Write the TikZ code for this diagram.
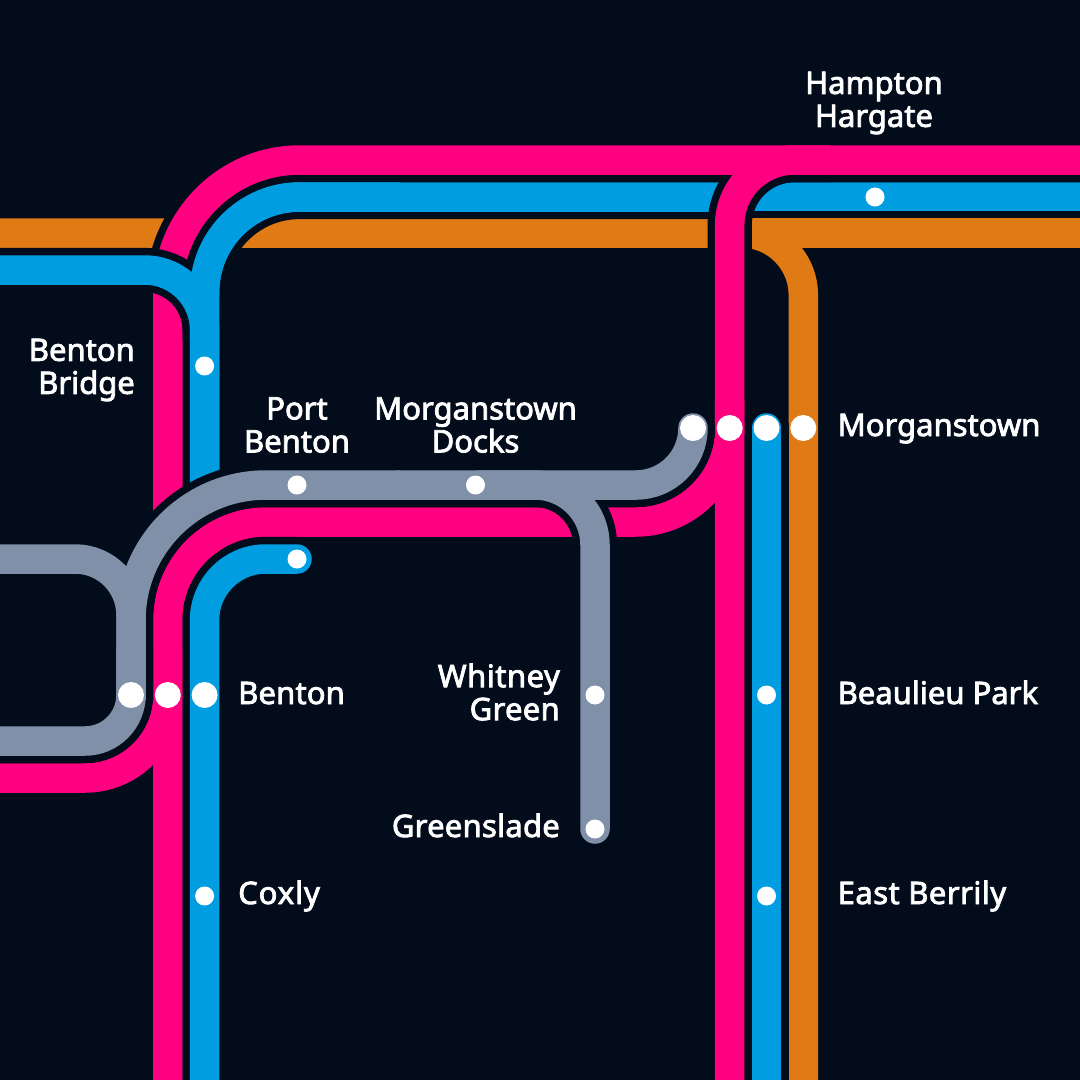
\documentclass[tikz,border=0pt]{standalone}
\usepackage{fontspec}
\setmainfont[FakeBold=2.6]{Noto Sans}
\definecolor{bg}{HTML}{020C1B}
\definecolor{pinkl}{HTML}{FF0080}
\definecolor{bluel}{HTML}{009EE0}
\definecolor{orangel}{HTML}{E07A14}
\definecolor{greyl}{HTML}{7F90A8}
\tikzset{
  casing/.style={line width=44.2pt,draw=bg},
  pinkline/.style={line width=29.5pt,draw=pinkl},
  blueline/.style={line width=29.5pt,draw=bluel},
  orangeline/.style={line width=29.5pt,draw=orangel},
  greyline/.style={line width=29.5pt,draw=greyl},
  stopsmall/.style={circle,fill=white,inner sep=0pt,minimum size=19pt},
  stopbig/.style={circle,fill=white,inner sep=0pt,minimum size=26pt},
  lbl/.style={text=white,inner sep=0pt,font=\fontsize{31}{33}\selectfont},
}
% #1 = style, #2 = radius, #3 = path
\newcommand{\seg}[3]{\draw[#1,rounded corners=#2pt] #3;}
\begin{document}
\begin{tikzpicture}[x=1pt,y=-1pt]
\useasboundingbox (0,0) rectangle (1080,1080);
\clip (0,0) rectangle (1080,1080);
\fill[bg] (0,0) rectangle (1080,1080);
% blue right stub and blue east vertical
\seg{casing}{28}{(1090,197)--(766.5,197)--(766.5,240)}
\seg{blueline}{28}{(1090,197)--(766.5,197)--(766.5,240)}
% orange
\seg{casing}{62}{(-10,233)--(803.3,233)--(803.3,1090)}
\seg{casing}{0}{(741,233)--(1090,233)}
\seg{orangeline}{62}{(-10,233)--(803.3,233)--(803.3,1090)}
\seg{orangeline}{0}{(741,233)--(1090,233)}
\seg{casing,line cap=round}{0}{(766.5,428)--(766.5,1120)}
\seg{blueline,line cap=round}{0}{(766.5,428)--(766.5,1120)}
% blue upper
\seg{casing}{95}{(204.6,490)--(204.6,197)--(735,197)}
\seg{blueline}{95}{(204.6,490)--(204.6,197)--(735,197)}
% pink
\seg{casing}{132}{(1090,160)--(167.8,160)--(167.8,530)}
\seg{casing}{65}{(830,160)--(729.7,160)--(729.7,1090)}
\seg{casing}{98}{(167.8,1090)--(167.8,522)--(450,522)}
\seg{casing}{94}{(450,522)--(729.7,522)--(729.7,400)}
\seg{casing}{83}{(-10,778)--(167.8,778)--(167.8,650)}
\seg{pinkline}{132}{(1090,160)--(167.8,160)--(167.8,530)}
\seg{pinkline}{65}{(830,160)--(729.7,160)--(729.7,1090)}
\seg{pinkline}{98}{(167.8,1090)--(167.8,522)--(450,522)}
\seg{pinkline}{94}{(450,522)--(729.7,522)--(729.7,400)}
\seg{pinkline}{83}{(-10,778)--(167.8,778)--(167.8,650)}
% blue west branch and lower blue
\seg{casing}{60}{(-10,270)--(204.6,270)--(204.6,340)}
\seg{blueline}{60}{(-10,270)--(204.6,270)--(204.6,340)}
\seg{blueline}{95}{(204.6,490)--(204.6,197)--(400,197)}
\seg{casing,line cap=round}{61}{(204.6,1120)--(204.6,559)--(297,559)}
\seg{blueline,line cap=round}{61}{(204.6,1120)--(204.6,559)--(297,559)}
% grey
\seg{casing,line cap=round}{57}{(693,428)--(693,485)--(400,485)}
\seg{casing}{135}{(400,485)--(131,485)--(131,700)}
\seg{casing}{56}{(-10,559)--(131,559)--(131,700)}
\seg{casing}{46}{(-10,741)--(131,741)--(131,650)}
\seg{casing,line cap=round}{60}{(480,485)--(595,485)--(595,829)}
\seg{greyline,line cap=round}{57}{(693,428)--(693,485)--(400,485)}
\seg{greyline}{135}{(400,485)--(131,485)--(131,700)}
\seg{greyline}{56}{(-10,559)--(131,559)--(131,700)}
\seg{greyline}{46}{(-10,741)--(131,741)--(131,650)}
\seg{greyline,line cap=round}{60}{(480,485)--(595,485)--(595,829)}
% stations
\node[stopsmall] (s1) at (875,197) {};
\node[stopsmall] (s2) at (204.6,366) {};
\node[stopsmall] (s3) at (297,485) {};
\node[stopsmall] (s4) at (475.5,485) {};
\node[stopsmall] (s5) at (297,559) {};
\node[stopsmall] (s6) at (595,695) {};
\node[stopsmall] (s7) at (595,829) {};
\node[stopsmall] (s8) at (766.5,695) {};
\node[stopsmall] (s9) at (766.5,896) {};
\node[stopsmall] (s10) at (204.6,896) {};
\node[stopbig] (b1) at (693,428) {};
\node[stopbig] (b2) at (729.7,428) {};
\node[stopbig] (b3) at (766.5,428) {};
\node[stopbig] (b4) at (803.3,428) {};
\node[stopbig] (b5) at (131,695) {};
\node[stopbig] (b6) at (167.8,695) {};
\node[stopbig] (b7) at (204.6,695) {};
% labels
\node[lbl,align=center] (t1) at (874,103) {Hampton\\Hargate};
\node[lbl,align=right,anchor=east] (t2) at (135,370) {Benton\\Bridge};
\node[lbl,align=center] (t3) at (297,425) {Port\\Benton};
\node[lbl,align=center] (t4) at (475.5,425) {Morganstown\\Docks};
\node[lbl,anchor=base west] (t5) at (837.5,436) {Morganstown};
\node[lbl,anchor=base west] (t6) at (238,704) {\addfontfeature{LetterSpace=0.5}Benton};
\node[lbl,anchor=base west] (t7) at (837.5,704) {Beaulieu Park};
\node[lbl,anchor=base west] (t8) at (238,904) {\addfontfeature{LetterSpace=3}Coxly};
\node[lbl,anchor=base west] (t9) at (837.5,904) {\addfontfeature{LetterSpace=1.5}East Berrily};
\node[lbl,align=right,anchor=east] (t10) at (560,692) {\addfontfeature{LetterSpace=1.6}Whitney\\\addfontfeature{LetterSpace=1}Green};
\node[lbl,anchor=base east] (t11) at (560,837) {\addfontfeature{LetterSpace=0.8}Greenslade};
\end{tikzpicture}
\end{document}
